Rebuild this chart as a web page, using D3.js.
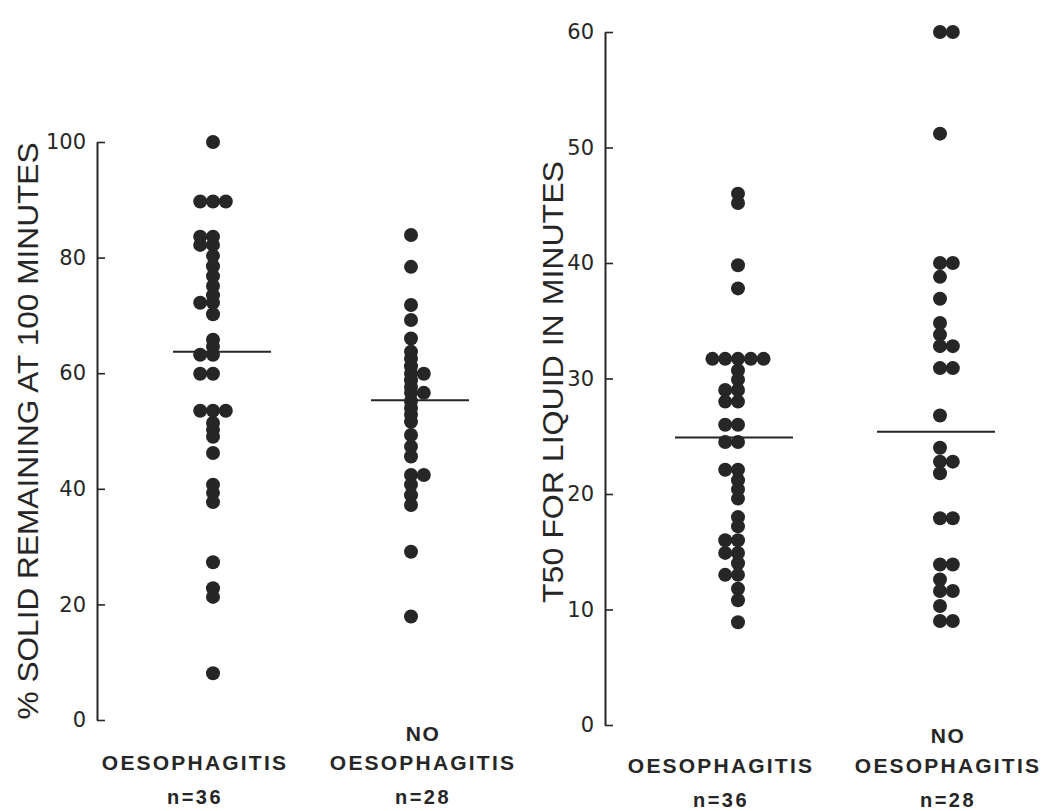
<!DOCTYPE html>
<html>
<head>
<meta charset="utf-8">
<script src="https://cdn.jsdelivr.net/npm/d3@7"></script>
<style>
  body { margin: 0; background: #fff; }
  svg { display: block; }
</style>
</head>
<body>
<svg id="chart" width="1047" height="811"></svg>
<script>
// Groups and sample sizes
const groups = ["OESOPHAGITIS", "NO OESOPHAGITIS"];
const groupSizes = ["n=36", "n=28"];

// % solid remaining at 100 minutes
const solidOes = [100, 89.7, 89.7, 89.7, 83.6, 83.6, 82.2, 82.2, 80.3, 78.5, 76.8, 75.1,
  73.5, 72.2, 72.2, 70.2, 65.8, 64.6, 63.2, 63.2, 59.9, 59.9, 53.5, 53.5, 53.5,
  51.4, 50.2, 49.0, 46.2, 40.7, 39.3, 37.7, 27.3, 22.8, 21.3, 8.1];
const solidNoOes = [83.9, 78.4, 71.8, 69.2, 66.0, 63.7, 62.5, 61.2, 59.9, 59.9, 58.8,
  57.6, 56.6, 56.6, 55.2, 54.0, 52.8, 51.6, 49.3, 47.3, 45.6, 42.4, 42.4, 40.7,
  38.9, 37.2, 29.1, 17.9];
const solidMeans = [63.7, 55.3];
const solidTicks = [0, 20, 40, 60, 80, 100];

// T50 for liquid, minutes
const t50Oes = [46.0, 45.2, 39.8, 37.8, 31.7, 31.7, 31.7, 31.7, 31.7, 30.7, 29.9,
  29.0, 29.0, 28.0, 28.0, 26.0, 26.0, 24.5, 24.5, 22.1, 22.1, 21.2, 20.4, 19.6,
  18.0, 17.2, 16.0, 16.0, 14.9, 14.9, 14.0, 13.0, 13.0, 11.8, 10.8, 8.9];
const t50NoOes = [60, 60, 51.2, 40.0, 40.0, 38.8, 36.9, 34.8, 33.8, 32.8, 32.8,
  30.9, 30.9, 26.8, 24.0, 22.8, 22.8, 21.8, 17.9, 17.9, 13.9, 13.9, 12.6, 11.6,
  11.6, 10.3, 9.0, 9.0];
const t50Means = [24.9, 25.4];
const t50Ticks = [0, 10, 20, 30, 40, 50, 60];

const svg = d3.select("#chart");
const DOT_R = 7;
const DOT_STEP = 12.8;
const INK = "#262626";

// Identical readings sit side by side; single readings stay on the column line.
function spread(values, side) {
  const counts = d3.rollup(values, v => v.length, d => d);
  const seen = new Map();
  return values.map(v => {
    const n = counts.get(v);
    const i = seen.get(v) || 0;
    seen.set(v, i + 1);
    let slot;
    if (n === 1) slot = 0;
    else if (n === 2) slot = i === 0 ? 0 : side;
    else slot = i - (n - 1) / 2;
    return { value: v, slot };
  });
}

function drawPanel(cfg) {
  const g = svg.append("g");
  const y = d3.scaleLinear().domain(cfg.domain).range(cfg.yRange);
  const x = d3.scalePoint().domain(groups).range(cfg.cols);

  // axis with inward ticks and labels on the left
  const axis = d3.axisLeft(y)
    .tickValues(cfg.ticks)
    .tickSizeInner(-8)
    .tickSizeOuter(0)
    .tickPadding(cfg.tickPad)
    .tickFormat(d3.format("d"));
  const ax = g.append("g").attr("transform", `translate(${cfg.axisX},0)`).call(axis);
  ax.select(".domain").attr("stroke", INK).attr("stroke-width", 2);
  ax.selectAll(".tick line").attr("stroke", INK).attr("stroke-width", 1.6);
  ax.selectAll(".tick text")
    .attr("fill", INK)
    .style("font-family", "'DejaVu Sans', sans-serif")
    .style("font-size", "21px");

  // axis title
  g.append("text")
    .attr("transform", `translate(${cfg.titleX},${cfg.titleY}) rotate(-90)`)
    .attr("text-anchor", "middle")
    .attr("fill", INK)
    .attr("textLength", cfg.titleLen)
    .attr("lengthAdjust", "spacingAndGlyphs")
    .style("font-family", "'Liberation Sans', Arial, sans-serif")
    .style("font-size", "30px")
    .text(cfg.title);

  // dots and mean lines
  cfg.series.forEach((vals, k) => {
    const cx = x(groups[k]);
    const pts = spread(vals, cfg.sides[k]);
    g.append("g").selectAll("circle")
      .data(pts)
      .join("circle")
      .attr("cx", d => cx + d.slot * DOT_STEP)
      .attr("cy", d => y(d.value))
      .attr("r", DOT_R)
      .attr("fill", INK);
    g.append("line")
      .attr("x1", cx + cfg.meanSpan[0])
      .attr("x2", cx + cfg.meanSpan[1])
      .attr("y1", y(cfg.means[k]))
      .attr("y2", y(cfg.means[k]))
      .attr("stroke", INK)
      .attr("stroke-width", 2);
  });

  // category labels
  const lab = g.append("g")
    .attr("fill", INK)
    .attr("text-anchor", "middle")
    .style("font-family", "'Liberation Sans', Arial, sans-serif")
    .style("font-weight", "bold")
    .style("font-size", "21px");
  groups.forEach((name, k) => {
    const cx = x(name) + cfg.labelDx[k];
    const words = name.split(" ");
    const main = words[words.length - 1];
    if (words.length > 1) {
      lab.append("text")
        .attr("x", cx)
        .attr("y", cfg.labelY[0])
        .style("letter-spacing", "1.5px")
        .text(words.slice(0, -1).join(" "));
    }
    lab.append("text")
      .attr("x", cx)
      .attr("y", cfg.labelY[1])
      .style("letter-spacing", "2.2px")
      .text(main);
    lab.append("text")
      .attr("x", cx)
      .attr("y", cfg.labelY[2])
      .style("letter-spacing", "2.5px")
      .style("font-size", "20px")
      .text(groupSizes[k]);
  });
}

drawPanel({
  domain: [0, 100], yRange: [720, 142], ticks: solidTicks,
  axisX: 97, tickPad: 11, cols: [213, 411],
  series: [solidOes, solidNoOes], means: solidMeans, sides: [-1, 1],
  meanSpan: [-40, 58],
  title: "% SOLID REMAINING AT 100 MINUTES", titleX: 38, titleY: 431, titleLen: 577,
  labelDx: [-18, 12], labelY: [741, 770, 804]
});

drawPanel({
  domain: [0, 60], yRange: [725, 32], ticks: t50Ticks,
  axisX: 605, tickPad: 11, cols: [738, 940],
  series: [t50Oes, t50NoOes], means: t50Means, sides: [-1, 1],
  meanSpan: [-63, 55],
  title: "T50 FOR LIQUID IN MINUTES", titleX: 563, titleY: 382, titleLen: 442,
  labelDx: [-17, 8], labelY: [743, 773, 807]
});
</script>
</body>
</html>
